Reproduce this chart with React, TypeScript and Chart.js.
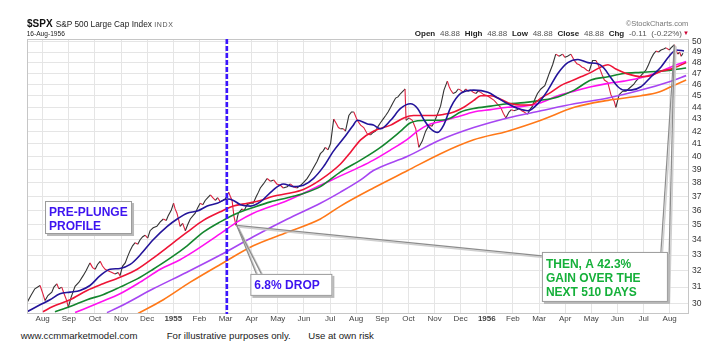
import { useEffect, useRef } from 'react';
import { Chart, registerables } from 'chart.js';

Chart.register(...registerables);

const FONT = '"Liberation Sans", Arial, sans-serif';

// x = months since 1 Aug 1954
const monthLabels = ['Aug', 'Sep', 'Oct', 'Nov', 'Dec', '1955', 'Feb', 'Mar', 'Apr', 'May', 'Jun', 'Jul', 'Aug', 'Sep', 'Oct', 'Nov', 'Dec', '1956', 'Feb', 'Mar', 'Apr', 'May', 'Jun', 'Jul', 'Aug'];
const yTicks = [30, 31, 32, 33, 34, 35, 36, 37, 38, 39, 40, 41, 42, 43, 44, 45, 46, 47, 48, 49, 50];
const xMin = -0.6;
const xMax = 24.74;
const yMin = 29.42;
const yMax = 50.26;

const price: [number, number][] = [
  [-0.59, 30.1], [-0.45, 30.5], [-0.3, 30.9], [-0.1, 31.1], [0.01, 30.6], [0.09, 30.2], [0.2, 30.5], [0.35, 30.7], [0.43, 31.0], [0.54, 31.2], [0.62, 30.9], [0.73, 31.0], [0.82, 30.6], [0.92, 30.2], [0.98, 29.8], [1.09, 30.4], [1.24, 31.05], [1.39, 31.3], [1.55, 31.7], [1.66, 32.0], [1.81, 32.5], [1.91, 32.2], [2.01, 32.1], [2.1, 32.4], [2.2, 32.6], [2.29, 32.3], [2.39, 32.1], [2.5, 32.0], [2.65, 31.9], [2.77, 31.8], [2.89, 31.9], [2.96, 31.7], [3.06, 32.3], [3.16, 32.5], [3.25, 32.9], [3.35, 33.3], [3.44, 33.6], [3.54, 33.8], [3.64, 33.7], [3.73, 34.0], [3.83, 34.2], [3.92, 34.3], [4.02, 34.1], [4.11, 34.6], [4.23, 34.8], [4.37, 34.9], [4.5, 35.2], [4.62, 35.4], [4.73, 35.3], [4.8, 35.6], [4.92, 36.0], [5.01, 36.5], [5.07, 36.1], [5.14, 35.8], [5.21, 35.3], [5.26, 34.9], [5.36, 35.1], [5.46, 34.6], [5.55, 35.0], [5.65, 35.4], [5.74, 35.6], [5.84, 35.8], [5.94, 36.2], [6.03, 36.5], [6.13, 36.4], [6.22, 36.7], [6.32, 36.9], [6.42, 37.1], [6.51, 36.9], [6.61, 36.7], [6.7, 36.9], [6.8, 36.6], [6.89, 36.7], [6.99, 36.8], [7.12, 37.3], [7.18, 37.0], [7.25, 36.7], [7.32, 35.6], [7.4, 34.96], [7.45, 35.5], [7.49, 35.8], [7.63, 36.1], [7.72, 36.0], [7.82, 36.4], [7.95, 36.5], [8.06, 36.5], [8.18, 37.0], [8.26, 37.3], [8.33, 37.6], [8.45, 37.9], [8.59, 38.3], [8.72, 38.1], [8.84, 38.2], [8.96, 37.9], [9.1, 37.8], [9.21, 37.6], [9.36, 37.7], [9.48, 37.9], [9.6, 37.7], [9.73, 37.6], [9.87, 37.8], [9.98, 38.0], [10.12, 38.3], [10.25, 38.7], [10.36, 39.1], [10.5, 39.6], [10.63, 40.2], [10.73, 40.4], [10.82, 40.7], [10.92, 40.5], [11.02, 41.0], [11.14, 43.0], [11.25, 42.6], [11.32, 42.3], [11.4, 42.2], [11.51, 42.2], [11.59, 42.0], [11.72, 43.3], [11.82, 43.6], [11.91, 43.6], [12.04, 42.9], [12.17, 42.5], [12.29, 42.3], [12.42, 41.8], [12.55, 41.7], [12.65, 41.9], [12.74, 42.0], [12.84, 42.4], [12.93, 42.7], [13.03, 43.0], [13.13, 43.3], [13.22, 43.6], [13.32, 44.0], [13.41, 44.4], [13.51, 44.8], [13.6, 44.9], [13.7, 45.2], [13.83, 45.5], [13.87, 45.6], [13.91, 42.9], [14.02, 43.1], [14.15, 42.9], [14.28, 42.2], [14.4, 40.7], [14.53, 41.2], [14.66, 42.0], [14.79, 42.5], [14.89, 42.4], [14.98, 42.7], [15.11, 43.4], [15.23, 44.1], [15.36, 45.5], [15.49, 46.3], [15.56, 45.8], [15.62, 45.5], [15.71, 45.2], [15.81, 45.3], [15.91, 45.6], [16.0, 45.5], [16.1, 45.3], [16.19, 45.6], [16.29, 45.4], [16.38, 45.5], [16.48, 45.3], [16.58, 45.2], [16.67, 45.4], [16.77, 45.3], [16.88, 45.1], [17.02, 45.0], [17.15, 44.8], [17.28, 44.6], [17.4, 44.3], [17.53, 44.0], [17.63, 43.5], [17.73, 43.1], [17.85, 43.6], [17.94, 43.8], [18.04, 43.7], [18.15, 43.8], [18.24, 43.9], [18.34, 43.7], [18.43, 43.6], [18.56, 43.4], [18.65, 43.8], [18.75, 44.1], [18.84, 44.7], [18.94, 45.2], [19.07, 45.6], [19.22, 45.9], [19.3, 46.4], [19.39, 47.0], [19.52, 47.8], [19.64, 48.8], [19.77, 48.6], [19.9, 48.8], [19.99, 48.5], [20.09, 48.6], [20.22, 48.8], [20.35, 48.2], [20.45, 47.9], [20.54, 47.8], [20.64, 47.6], [20.73, 47.5], [20.83, 47.3], [20.92, 47.2], [21.05, 48.2], [21.18, 48.2], [21.3, 47.6], [21.41, 46.9], [21.5, 46.4], [21.63, 46.2], [21.75, 45.1], [21.88, 44.5], [21.94, 44.0], [22.01, 44.6], [22.07, 45.1], [22.2, 45.4], [22.33, 45.4], [22.42, 45.6], [22.52, 45.8], [22.62, 46.0], [22.71, 46.3], [22.9, 46.8], [23.09, 47.3], [23.19, 47.8], [23.29, 48.4], [23.38, 48.8], [23.48, 49.1], [23.57, 49.0], [23.67, 49.2], [23.77, 49.3], [23.86, 49.4], [23.99, 49.2], [24.05, 49.4], [24.18, 49.7], [24.24, 49.2], [24.31, 48.8], [24.38, 49.0], [24.44, 48.6], [24.51, 48.88],
];

const navyMA: [number, number][] = [
  [-0.6, 29.55], [-0.1, 29.95], [0.28, 30.25], [0.66, 30.6], [1.05, 30.7], [1.43, 30.8], [1.81, 31.1], [2.2, 31.7], [2.58, 32.1], [2.96, 32.15], [3.35, 32.4], [3.73, 33.0], [4.23, 34.0], [4.77, 34.9], [5.15, 35.4], [5.53, 35.8], [5.92, 35.95], [6.3, 36.3], [6.68, 36.5], [7.07, 36.8], [7.3, 36.7], [7.57, 36.4], [7.95, 36.3], [8.33, 36.6], [8.79, 37.4], [9.21, 37.9], [9.6, 37.7], [9.98, 37.8], [10.36, 38.3], [10.75, 39.2], [11.13, 40.4], [11.51, 41.4], [11.86, 42.4], [12.05, 42.9], [12.43, 42.6], [12.66, 42.5], [12.93, 42.2], [13.32, 42.9], [13.7, 43.9], [14.08, 44.3], [14.35, 43.9], [14.58, 43.0], [14.85, 42.2], [15.12, 41.9], [15.35, 42.5], [15.62, 44.0], [16.0, 45.2], [16.5, 45.5], [17.04, 45.3], [17.42, 44.8], [17.8, 44.3], [18.19, 43.9], [18.57, 43.7], [18.95, 44.3], [19.34, 45.5], [19.72, 47.0], [20.1, 48.0], [20.49, 48.3], [20.87, 48.0], [21.25, 47.9], [21.48, 47.5], [21.75, 46.6], [22.02, 45.8], [22.25, 45.5], [22.52, 45.5], [22.9, 45.8], [23.29, 46.7], [23.67, 47.6], [23.98, 48.6], [24.25, 49.2], [24.55, 49.1],
];

const redMA: [number, number][] = [
  [0.01, 29.55], [0.39, 29.85], [1.05, 30.25], [1.7, 30.8], [2.31, 31.2], [2.96, 31.6], [3.62, 32.1], [4.23, 32.8], [4.77, 33.5], [5.53, 34.5], [6.15, 35.3], [6.8, 35.9], [7.3, 36.3], [7.83, 36.5], [8.33, 36.7], [8.83, 37.0], [9.37, 37.2], [9.98, 37.5], [10.63, 38.2], [11.4, 39.4], [11.78, 40.3], [12.17, 41.3], [12.66, 42.0], [13.32, 42.5], [13.82, 43.1], [14.2, 43.3], [14.58, 43.3], [14.97, 43.3], [15.35, 43.4], [15.74, 43.6], [16.12, 44.0], [16.5, 44.6], [16.77, 45.0], [17.15, 45.0], [17.53, 44.7], [17.92, 44.3], [18.3, 44.2], [18.69, 44.2], [19.07, 44.8], [19.45, 45.3], [19.83, 45.9], [20.22, 46.3], [20.6, 46.7], [20.99, 47.1], [21.37, 47.6], [21.64, 47.8], [21.94, 47.4], [22.33, 47.0], [22.9, 46.7], [23.29, 46.8], [23.67, 47.2], [24.05, 47.4], [24.63, 48.0],
];

const greenMA: [number, number][] = [
  [0.47, 29.55], [1.05, 29.85], [1.7, 30.25], [2.31, 30.55], [2.96, 31.0], [3.62, 31.5], [4.23, 32.1], [4.88, 32.8], [5.53, 33.6], [6.15, 34.5], [6.8, 35.2], [7.45, 35.8], [8.06, 36.2], [8.72, 36.6], [9.37, 36.9], [9.98, 37.2], [10.63, 37.7], [11.4, 38.8], [12.17, 39.7], [12.93, 40.7], [13.7, 42.0], [14.08, 42.7], [14.73, 42.9], [15.23, 42.9], [15.62, 43.1], [16.0, 43.6], [16.5, 43.9], [17.15, 44.1], [17.8, 44.3], [18.43, 44.4], [19.07, 44.6], [19.72, 44.9], [20.35, 45.5], [20.99, 46.4], [21.64, 46.7], [22.25, 47.0], [22.9, 47.1], [23.56, 47.2], [24.05, 47.3], [24.63, 47.5],
];

const magentaMA: [number, number][] = [
  [1.24, 29.5], [2.2, 30.1], [2.96, 30.6], [3.73, 31.3], [4.5, 32.1], [5.26, 32.7], [5.76, 33.2], [6.8, 34.4], [7.45, 35.2], [8.06, 35.8], [9.37, 36.7], [10.63, 37.8], [11.4, 38.5], [12.17, 39.2], [12.66, 39.7], [13.32, 40.5], [13.93, 41.3], [14.35, 42.0], [14.73, 42.5], [15.23, 42.8], [15.89, 43.2], [16.5, 43.6], [17.15, 43.8], [17.8, 44.0], [18.43, 44.1], [19.07, 44.4], [19.72, 45.0], [20.35, 45.4], [20.99, 45.8], [21.64, 46.1], [22.25, 46.3], [22.9, 46.6], [23.56, 47.1], [24.05, 47.6], [24.63, 48.1],
];

const purpleMA: [number, number][] = [
  [2.46, 29.5], [2.96, 29.85], [4.23, 30.9], [5.5, 31.9], [6.8, 33.0], [8.06, 34.2], [9.37, 35.4], [10.63, 36.5], [11.4, 37.3], [12.17, 38.2], [12.66, 38.9], [13.97, 40.0], [15.23, 41.3], [16.5, 42.3], [17.8, 43.1], [19.07, 43.7], [20.35, 44.3], [21.64, 44.8], [22.9, 45.5], [24.05, 46.3], [24.63, 46.8],
];

const orangeMA: [number, number][] = [
  [3.65, 29.45], [4.62, 30.25], [5.65, 31.3], [6.8, 32.4], [8.06, 33.6], [9.37, 34.5], [10.63, 35.4], [11.4, 36.3], [12.66, 37.6], [13.97, 38.9], [15.23, 40.2], [16.5, 41.3], [17.8, 42.0], [19.07, 42.9], [20.35, 44.0], [21.64, 44.6], [22.9, 45.0], [23.56, 45.3], [24.05, 45.8], [24.63, 46.4],
];

// annotation anchors (data coordinates: month, price)
const markerMonth = 7.05;
const dropLow: [number, number] = [7.43, 34.96];
const peakPoint: [number, number] = [24.18, 49.68];
const prePlungeLines = ['PRE-PLUNGE', 'PROFILE'];
const dropLines = ['6.8% DROP'];
const gainLines = ['THEN, A 42.3%', 'GAIN OVER THE', 'NEXT 510 DAYS'];

const toPts = (arr: [number, number][]) => arr.map(([x, y]) => ({ x, y }));

const maLine = (data: [number, number][], color: string) => ({
  type: 'line' as const,
  data: toPts(data),
  borderColor: color,
  borderWidth: 1.6,
  pointRadius: 0,
  cubicInterpolationMode: 'monotone' as const,
});

const annotPlugin = {
  id: 'annot',
  afterDatasetsDraw(chart: any) {
    const { ctx, chartArea, scales } = chart;
    const xs = scales.x;
    const ys = scales.y;
    const px = (m: number) => xs.getPixelForValue(m);
    const py = (v: number) => ys.getPixelForValue(v);
    ctx.save();

    // plot border
    ctx.strokeStyle = '#c6c6c6';
    ctx.lineWidth = 1;
    ctx.strokeRect(chartArea.left + 0.5, chartArea.top + 0.5, chartArea.width - 1, chartArea.height - 1);

    // dashed marker line
    const mx = px(markerMonth);
    ctx.strokeStyle = '#3a14ff';
    ctx.lineWidth = 2.6;
    ctx.setLineDash([5, 2]);
    ctx.beginPath();
    ctx.moveTo(mx, chartArea.top);
    ctx.lineTo(mx, chartArea.bottom);
    ctx.stroke();
    ctx.setLineDash([]);

    const boxes = [
      { x: 0.09, y: 36.66, w: 87, h: 33, lines: prePlungeLines, color: '#3d14f0', base: [15, 28.5] },
      { x: 7.95, y: 31.81, w: 82, h: 22, lines: dropLines, color: '#3d14f0', base: [15] },
      { x: 19.11, y: 33.2, w: 126, h: 50, lines: gainLines, color: '#15b03a', base: [15.8, 30.2, 44.2] },
    ].map((b) => ({ ...b, left: px(b.x), top: py(b.y) }));

    const dl = { x: px(dropLow[0]), y: py(dropLow[1]) };
    const pk = { x: px(peakPoint[0]), y: py(peakPoint[1]) };
    const drop = boxes[1];
    const gain = boxes[2];
    const callouts: [number, number, number, number][] = [
      [dl.x, dl.y, drop.left + 6, drop.top],
      [dl.x, dl.y, drop.left + 11, drop.top],
      [dl.x, dl.y, gain.left, gain.top + 4],
      [pk.x, pk.y, gain.left + gain.w - 7, gain.top],
      [pk.x, pk.y, gain.left + gain.w, gain.top + gain.h],
    ];
    for (const [ax, ay, bx, by] of callouts) {
      ctx.strokeStyle = '#cfcfcf';
      ctx.lineWidth = 1.5;
      ctx.beginPath();
      ctx.moveTo(ax + 1.5, ay + 1.5);
      ctx.lineTo(bx + 1.5, by + 1.5);
      ctx.stroke();
      ctx.strokeStyle = '#8c8c8c';
      ctx.lineWidth = 1.2;
      ctx.beginPath();
      ctx.moveTo(ax, ay);
      ctx.lineTo(bx, by);
      ctx.stroke();
    }

    for (const b of boxes) {
      ctx.fillStyle = '#b8b8b8';
      ctx.fillRect(b.left + 2, b.top + 2, b.w, b.h);
      ctx.fillStyle = '#ffffff';
      ctx.fillRect(b.left, b.top, b.w, b.h);
      ctx.strokeStyle = '#9a9a9a';
      ctx.lineWidth = 1;
      ctx.strokeRect(b.left + 0.5, b.top + 0.5, b.w - 1, b.h - 1);
      ctx.fillStyle = b.color;
      ctx.font = `bold 12px ${FONT}`;
      ctx.textAlign = 'left';
      ctx.textBaseline = 'alphabetic';
      b.lines.forEach((t: string, i: number) => ctx.fillText(t, b.left + 4, b.top + b.base[i]));
    }
    ctx.restore();
  },
};

function Txt(props: { x: number; base: number; size: number; color?: string; weight?: any; right?: boolean; spacing?: number; wordSpacing?: number; children: any }) {
  const { x, base, size, color = '#222', weight = 'normal', right, spacing, wordSpacing, children } = props;
  const style: any = {
    position: 'absolute',
    top: base - 0.847 * size,
    fontSize: size,
    lineHeight: `${size}px`,
    whiteSpace: 'pre',
    color,
    fontWeight: weight,
    fontFamily: FONT,
  };
  if (spacing) style.letterSpacing = spacing;
  if (wordSpacing) style.wordSpacing = wordSpacing;
  if (right) {
    style.right = 721 - x;
    style.textAlign = 'right';
  } else style.left = x;
  return <div style={style}>{children}</div>;
}

export default function App() {
  const ref = useRef<HTMLCanvasElement>(null);
  useEffect(() => {
    const canvas = ref.current;
    if (!canvas) return;
    const chart = new Chart(canvas, {
      type: 'line',
      data: {
        datasets: [
          maLine(navyMA, '#23149a'),
          maLine(redMA, '#ee1436'),
          maLine(greenMA, '#14862e'),
          maLine(magentaMA, '#ff10f0'),
          maLine(purpleMA, '#a646f2'),
          maLine(orangeMA, '#ff7818'),
          {
            type: 'line',
            data: toPts(price),
            borderColor: '#333333',
            borderWidth: 1.1,
            pointRadius: 0,
            tension: 0,
            segment: {
              borderColor: (c: any) => (c.p1.parsed.y < c.p0.parsed.y ? '#e0203f' : '#333333'),
            },
          },
        ],
      },
      options: {
        responsive: false,
        maintainAspectRatio: false,
        animation: false,
        parsing: false as any,
        layout: { padding: { left: 27, top: 39, right: 0, bottom: 0 } },
        plugins: { legend: { display: false }, tooltip: { enabled: false } },
        scales: {
          x: {
            type: 'linear',
            min: xMin,
            max: xMax,
            afterBuildTicks: (s: any) => {
              s.ticks = monthLabels.map((_, i) => ({ value: i }));
            },
            afterFit: (s: any) => {
              s.height = 16;
            },
            ticks: {
              autoSkip: false,
              maxRotation: 0,
              padding: 0,
              color: '#444',
              callback: (v: any) => monthLabels[Math.round(v)] ?? '',
              font: (c: any) => ({
                family: FONT,
                size: 8,
                weight: /^\d{4}$/.test(monthLabels[c.index] ?? '') ? 'bold' : 'normal',
              }),
            },
            grid: { color: '#e5e5e5', drawTicks: false },
            border: { display: false },
          },
          y: {
            type: 'logarithmic',
            position: 'right',
            min: yMin,
            max: yMax,
            afterBuildTicks: (s: any) => {
              s.ticks = yTicks.map((v) => ({ value: v }));
            },
            afterFit: (s: any) => {
              s.width = 32;
            },
            ticks: {
              padding: 3,
              color: '#333',
              font: { family: FONT, size: 8.5 },
              callback: (v: any) => String(v),
            },
            grid: { color: '#e5e5e5', drawTicks: false },
            border: { display: false },
          },
        },
      },
      plugins: [annotPlugin],
    } as any);
    return () => chart.destroy();
  }, []);

  return (
    <div style={{ position: 'absolute', left: 0, top: 0, width: 721, height: 357, background: '#fff', overflow: 'hidden' }}>
      <canvas ref={ref} width={721} height={330} style={{ position: 'absolute', left: 0, top: 0, width: 721, height: 330 }} />
      <Txt x={27} base={27.3} size={10} weight="bold" color="#111">$SPX</Txt>
      <Txt x={55.7} base={27.3} size={8.3} color="#222">S&amp;P 500 Large Cap Index</Txt>
      <Txt x={154.3} base={27.3} size={7} color="#555" spacing={0.6}>INDX</Txt>
      <Txt x={26.7} base={36.7} size={6.6} color="#222">16-Aug-1956</Txt>
      <Txt x={688.3} base={26.7} size={7.5} color="#777" right>©StockCharts.com</Txt>
      <Txt x={682} base={36.7} size={8} color="#555" right wordSpacing={2.5}>
        <b style={{ color: '#222' }}>Open</b> 48.88 <b style={{ color: '#222' }}>High</b> 48.88 <b style={{ color: '#222' }}>Low</b> 48.88 <b style={{ color: '#222' }}>Close</b> 48.88 <b style={{ color: '#222' }}>Chg</b> -0.11 (-0.22%)
      </Txt>
      <Txt x={683} base={35.5} size={6} color="#cc0033">▼</Txt>
      <Txt x={20.7} base={339.5} size={9.6} color="#222">www.ccmmarketmodel.com</Txt>
      <Txt x={166.7} base={339.5} size={9.6} color="#222">For illustrative purposes only.</Txt>
      <Txt x={308.3} base={339.5} size={9.6} color="#222">Use at own risk</Txt>
    </div>
  );
}
